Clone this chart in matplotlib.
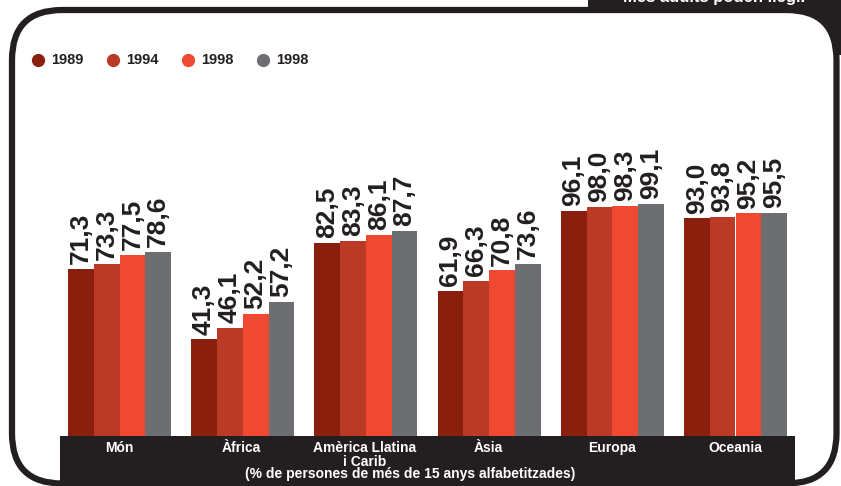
import matplotlib.pyplot as plt
from matplotlib.patches import FancyBboxPatch, Rectangle
import numpy as np

regions = ['Món', 'Àfrica', 'Amèrica Llatina\ni Carib', 'Àsia', 'Europa', 'Oceania']
years = ['1989', '1994', '1998', '1998']
v1989 = [71.3, 41.3, 82.5, 61.9, 96.1, 93.0]
v1994 = [73.3, 46.1, 83.3, 66.3, 98.0, 93.8]
v1998a = [77.5, 52.2, 86.1, 70.8, 98.3, 95.2]
v1998b = [78.6, 57.2, 87.7, 73.6, 99.1, 95.5]
series = [v1989, v1994, v1998a, v1998b]
colors = ['#8a1f0e', '#bb3a26', '#ef4931', '#6d6e71']
dark = '#231f20'

plt.rcParams['font.family'] = ['Liberation Sans Narrow', 'Liberation Sans', 'DejaVu Sans']

fig = plt.figure(figsize=(8.41, 4.86), dpi=100, facecolor='white')

# background layer in pixel units: tab + rounded frame + dark footer band
bg = fig.add_axes([0, 0, 1, 1])
bg.set_xlim(0, 841)
bg.set_ylim(486, 0)
bg.axis('off')
bg.add_patch(Rectangle((588, -5), 260, 60, facecolor=dark, edgecolor='none'))
bg.add_patch(FancyBboxPatch((12, 10), 824.5, 473.5,
                            boxstyle='round,pad=0,rounding_size=50',
                            facecolor='white', edgecolor=dark, linewidth=4.5))
bg.add_patch(Rectangle((60, 436), 735, 60, facecolor=dark, edgecolor='none'))
bg.text(715, 2, 'Més adults poden llegir', color='white', fontsize=12,
        fontweight='bold', ha='center', va='baseline')

# legend
for i, (yr, c) in enumerate(zip(years, colors)):
    x0 = 38 + 75 * i
    bg.plot(x0, 60, 'o', color=c, markersize=8.5)
    bg.text(x0 + 13, 60, yr, color=dark, fontsize=10.5, fontweight='bold',
            va='center', ha='left')

# footer labels
centers_px = [119.5, 241.5, 365, 488.5, 612, 735.5]
for cx, name in zip(centers_px, regions):
    bg.text(cx, 441, name, color='white', fontsize=10, fontweight='bold',
            ha='center', va='top', linespacing=1.0)
bg.text(410, 474, '(% de persones de més de 15 anys alfabetitzades)', color='white',
        fontsize=10, fontweight='bold', ha='center', va='center')

# bar chart
ax = fig.add_axes([60 / 841, 50 / 486, 735 / 841, 336 / 486])
ax.patch.set_alpha(0)
step = 123.2
ax.set_xlim((60 - 119.5) / step, (795 - 119.5) / step)
ax.set_ylim(0, 336 / 2.34)
ax.axis('off')

x = np.arange(len(regions))
w = 25.8 / step
for j, (vals, c) in enumerate(zip(series, colors)):
    xs = x + (j - 1.5) * w
    ax.bar(xs, vals, width=w, color=c, edgecolor='none')
    for xi, v in zip(xs, vals):
        ax.text(xi, v + 2.0, f'{v:.1f}'.replace('.', ','), rotation=90,
                ha='center', va='bottom', fontsize=19, fontweight='bold',
                color=dark, family=['Liberation Sans', 'DejaVu Sans'])

fig.savefig('out.png', dpi=100)
